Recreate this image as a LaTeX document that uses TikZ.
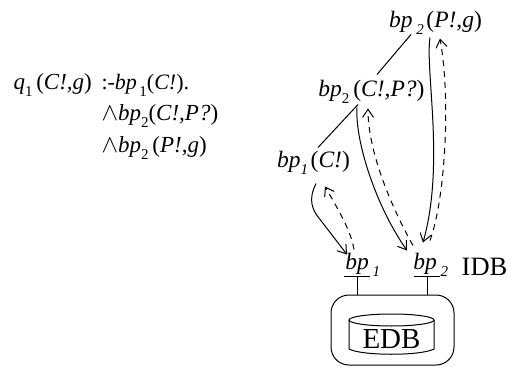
\documentclass[tikz,border=0pt]{standalone}
\usepackage{fontspec}
\setmainfont{Liberation Serif}
\usetikzlibrary{arrows.meta}
\newcommand{\lsub}[1]{\raisebox{-0.32em}{\fontsize{15}{15}\selectfont #1}}
\newcommand{\isub}[1]{\raisebox{-0.32em}{\fontsize{15}{15}\selectfont\itshape #1\,}}
\tikzset{
  lit/.style={inner sep=0pt,text height=16pt,text depth=8pt,font=\fontsize{23.5}{24}\selectfont},
  rule/.style={inner sep=0pt,anchor=base west,font=\fontsize{22}{24}\selectfont},
  rulen/.style={inner sep=0pt,anchor=base west,font=\fontsize{23}{24}\selectfont},
  store/.style={inner sep=0pt,font=\fontsize{26.5}{28}\selectfont},
  sip/.style={->,line width=1pt},
  back/.style={->,line width=1pt,dash pattern=on 6pt off 5pt}
}
\begin{document}
\begin{tikzpicture}[x=1pt,y=-1pt,>={Straight Barb[length=8pt,width=11pt]},line width=1pt]
\useasboundingbox (0,0) rectangle (507,367);
\path
(13,89)   node[rulen] (r1) {\textit{q}\lsub{1}\,(\textit{C!,g})}
(101,89)  node[rule] (r1b) {:-\textit{bp}\lsub{\,1}(\textit{C!}).}
(101,120) node[rulen] (r2) {$\wedge$\textit{bp}\lsub{2}(\textit{C!,P?})}
(101,152) node[rulen] (r3) {$\wedge$\textit{bp}\lsub{2}\,(\textit{P!,g})}
(435.5,23) node[lit] (top) {\textit{bp}\,\isub{2}(\textit{P!,g})}
(371.5,92) node[lit] (mid) {\textit{bp}\lsub{2}\,(\textit{C!,P?})}
(313.5,163) node[lit] (low) {\textit{bp}\isub{1}(\textit{C!})}
(364,265) node[lit] (bpa) {\textit{bp}\,\isub{1}}
(432,265) node[lit] (bpb) {\textit{bp}\,\isub{2}}
(484.5,267) node[store] (idb) {IDB}
(392.5,330) node[draw,rounded corners=18pt,minimum width=123pt,minimum height=70pt,inner sep=0pt] (box) {}
(391.5,339) node[store,font=\fontsize{29}{30}\selectfont] (edb) {EDB}
(357,276) coordinate (bara)
(427,276) coordinate (barb);

% disk
\draw (391.5,320) ellipse (42.5 and 6);
\draw (349,320)--(349,349) .. controls (362,356) and (421,356) .. (434,349)--(434,320);

\draw ([xshift=-13pt]bara)--([xshift=13pt]bara);
\draw ([xshift=-13pt]barb)--([xshift=13pt]barb);
\draw (bara)--(bara|-box.north);
\draw (barb)--(barb|-box.north);

\draw ([xshift=-24.5pt,yshift=1pt]top.south)--([xshift=5.5pt,yshift=5pt]mid.north);
\draw ([xshift=-13.5pt]mid.south)--([xshift=4.5pt,yshift=3pt]low.north);

\draw[sip] ([xshift=2.5pt,yshift=-8pt]low.south) .. controls +(-6,12) and +(-7,-10) .. +(1,32) -- ([xshift=-17pt,yshift=-2pt]bpa.north);
\draw[back] ([xshift=-10pt,yshift=3pt]bpa.north) .. controls +(-3,-18) and +(15,26) .. ([xshift=11.5pt,yshift=-11pt]low.south);
\draw[sip] ([xshift=-14.5pt,yshift=-3pt]mid.south) .. controls +(-2,33) and +(-32,-46) .. ([xshift=-25pt,yshift=2pt]bpb.north);
\draw[back] ([xshift=-19pt,yshift=7pt]bpb.north) .. controls +(-23,-41) and +(0,42) .. ([xshift=-3.5pt,yshift=-4pt]mid.south);
\draw[sip] ([xshift=-5.5pt,yshift=-2pt]top.south) .. controls +(-5,33) and +(22,-78) .. ([xshift=-9pt,yshift=10pt]bpb.north);
\draw[back] ([xshift=-2pt,yshift=12pt]bpb.north) .. controls +(15,-41) and +(11,62) .. ([xshift=4.5pt,yshift=-3pt]top.south);
\end{tikzpicture}
\end{document}
